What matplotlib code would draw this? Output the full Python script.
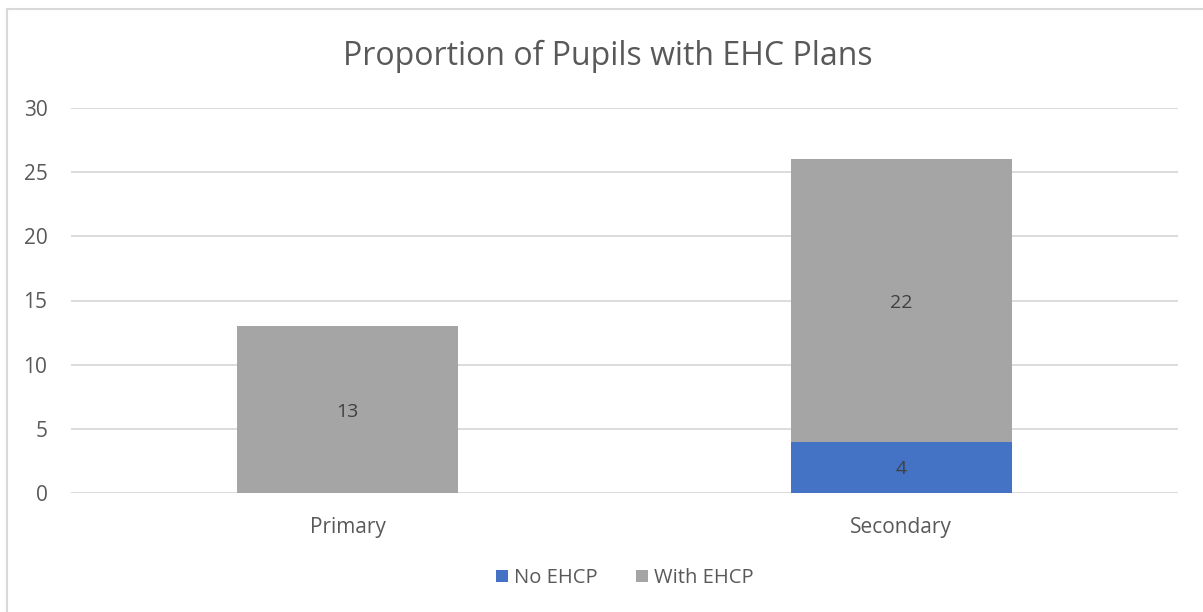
import matplotlib.pyplot as plt
from matplotlib.patches import Rectangle

categories = ["Primary", "Secondary"]
no_ehcp = [0, 4]
with_ehcp = [13, 22]
yticks = [0, 5, 10, 15, 20, 25, 30]

blue = "#4472c4"
grey = "#a5a5a5"
text_col = "#595959"

plt.rcParams["font.family"] = ["Open Sans", "DejaVu Sans"]

fig = plt.figure(figsize=(12.03, 6.12), dpi=100)
ax = fig.add_axes([71 / 1203, 1 - 493 / 612, (1178 - 71) / 1203, (493 - 108) / 612])

x = range(len(categories))
ax.bar(x, no_ehcp, width=0.4, color=blue, label="No EHCP", zorder=3)
ax.bar(x, with_ehcp, width=0.4, bottom=no_ehcp, color=grey, label="With EHCP", zorder=3)

# data labels in the middle of each non-empty segment
for i in x:
    if no_ehcp[i]:
        ax.text(i, no_ehcp[i] / 2 - 0.15, str(no_ehcp[i]), ha="center", va="center",
                fontsize=14, color="#404040")
    if with_ehcp[i]:
        ax.text(i, no_ehcp[i] + with_ehcp[i] / 2 - 0.2, str(with_ehcp[i]), ha="center",
                va="center", fontsize=14, color="#404040")

ax.set_xlim(-0.5, 1.5)
ax.set_ylim(0, 30)
ax.set_yticks(yticks)
ax.set_xticks(list(x))
ax.set_xticklabels(categories)
ax.yaxis.grid(True, color="#d9d9d9", linewidth=1.3, zorder=0)
ax.set_axisbelow(True)
for s in ax.spines.values():
    s.set_visible(False)
ax.tick_params(axis="both", length=0, labelsize=15, colors=text_col)
ax.tick_params(axis="y", pad=17)
ax.tick_params(axis="x", pad=17)

fig.text(608 / 1203, 1 - 56 / 612, "Proportion of Pupils with EHC Plans",
         ha="center", va="center", fontsize=23, color=text_col)

ax.legend(loc="center", bbox_to_anchor=(0.5, (493 - 578) / 385), ncol=2,
          frameon=False, fontsize=14.5, labelcolor=text_col, handlelength=0.6,
          handleheight=0.6, columnspacing=1.9, handletextpad=0.3)

fig.patches.append(Rectangle((7 / 1203, -0.1), 1.2, 1 - 9 / 612 + 0.1,
                             transform=fig.transFigure, fill=False,
                             edgecolor="#d9d9d9", linewidth=1.5))

fig.savefig("out.png", dpi=100)
